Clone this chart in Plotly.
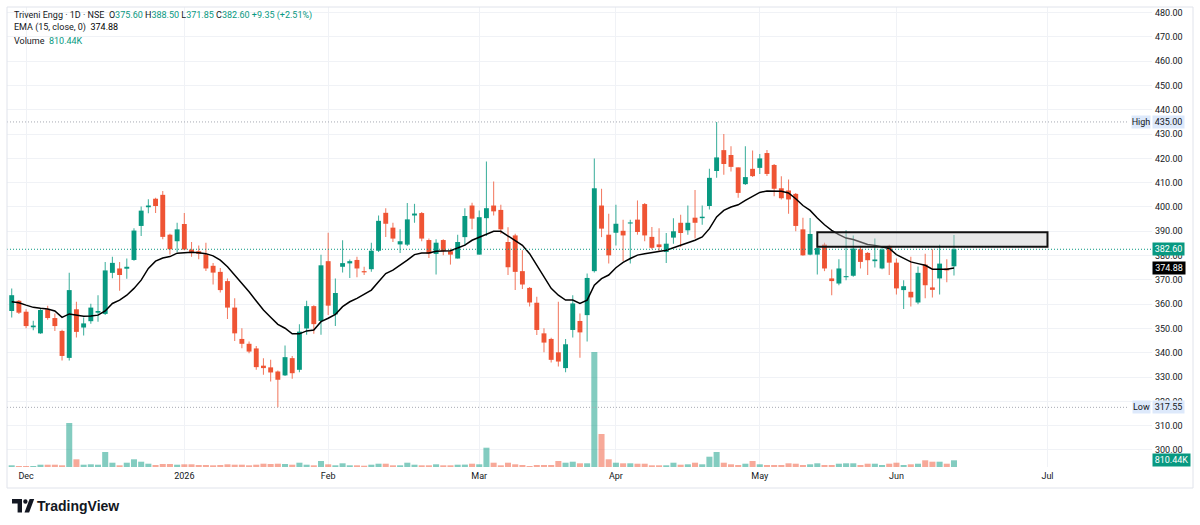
import plotly.graph_objects as go

# ---------------- data ----------------
opens = [
    357.2, 361.4, 356.9, 350.5, 348.0, 357.9, 354.3, 349.0, 337.9, 357.9,
    350.4, 353.0, 356.5, 356.0, 372.9, 374.7, 374.6, 378.2, 392.2, 399.9,
    403.4, 405.0, 388.6, 385.9, 393.0, 382.5, 381.8, 380.5, 375.8, 373.3,
    369.5, 358.6, 345.7, 343.7, 341.8, 334.7, 334.0, 332.3, 330.7, 337.8,
    333.0, 350.0, 359.2, 353.1, 377.7, 355.8, 375.4, 376.8, 378.2, 373.6,
    374.4, 382.0, 397.6, 391.5, 384.6, 384.5, 396.5, 397.5, 386.4, 380.7,
    386.4, 381.8, 378.8, 387.6, 400.6, 380.4, 395.4, 400.6, 398.8, 385.6,
    388.3, 373.6, 366.7, 360.6, 348.0, 345.7, 340.2, 333.7, 349.4, 353.1,
    355.5, 373.6, 400.6, 388.6, 389.4, 390.2, 393.2, 394.8, 401.2, 387.7,
    384.6, 381.5, 387.4, 393.5, 390.4, 395.6, 395.4, 400.4, 414.8, 423.4,
    421.4, 416.3, 409.4, 415.7, 416.1, 422.2, 417.3, 407.7, 406.8, 405.4,
    390.8, 380.4, 380.4, 384.5, 370.6, 368.5, 371.1, 371.7, 382.6, 381.1,
    377.7, 374.7, 384.0, 377.1, 365.8, 365.1, 360.7, 376.3, 366.9, 370.6,
    374.7, 375.6]

highs = [
    366.5, 361.7, 357.9, 353.2, 358.3, 359.4, 356.2, 349.5, 372.9, 361.0,
    354.5, 360.2, 363.7, 377.4, 379.5, 377.4, 378.8, 391.2, 400.2, 403.2,
    403.8, 406.6, 389.0, 393.5, 397.5, 385.6, 384.2, 385.3, 377.0, 374.9,
    370.6, 362.4, 350.1, 344.6, 342.8, 337.8, 337.1, 332.7, 343.0, 338.7,
    351.7, 361.4, 359.6, 380.3, 389.4, 370.6, 386.3, 378.4, 379.5, 375.4,
    385.3, 396.5, 399.5, 393.5, 390.8, 401.6, 401.3, 397.9, 387.0, 386.7,
    386.7, 382.9, 388.6, 399.5, 401.7, 398.6, 418.7, 410.5, 400.9, 391.7,
    389.0, 382.2, 367.1, 363.1, 350.1, 346.2, 361.0, 345.7, 363.7, 356.2,
    372.6, 420.0, 407.5, 397.2, 400.9, 394.8, 394.8, 402.7, 401.6, 391.8,
    391.3, 389.3, 395.4, 396.8, 400.6, 407.0, 400.6, 415.7, 435.0, 430.0,
    425.0, 416.3, 425.0, 423.2, 421.8, 423.5, 417.7, 412.6, 411.3, 405.8,
    395.6, 395.5, 387.4, 385.3, 374.3, 378.5, 390.4, 388.3, 384.0, 381.5,
    387.0, 383.6, 384.5, 378.8, 369.9, 379.5, 375.5, 380.8, 382.6, 384.5,
    378.5, 388.5]

lows = [
    354.5, 356.0, 350.1, 349.3, 347.8, 353.6, 349.0, 336.8, 336.8, 346.3,
    347.1, 352.0, 352.8, 355.5, 370.7, 365.5, 370.5, 377.9, 388.1, 397.4,
    397.5, 386.7, 380.4, 381.5, 382.2, 379.5, 378.5, 373.7, 368.1, 364.8,
    353.9, 344.9, 341.9, 339.8, 333.0, 331.0, 328.2, 317.55, 330.4, 329.3,
    332.0, 347.4, 347.8, 347.4, 355.5, 351.0, 373.0, 370.8, 371.1, 372.0,
    373.3, 381.5, 387.6, 385.6, 381.1, 383.9, 393.5, 385.9, 379.0, 372.2,
    380.1, 376.3, 378.8, 384.0, 390.8, 380.4, 388.1, 396.5, 389.0, 372.0,
    365.8, 366.2, 359.0, 347.3, 340.2, 336.0, 334.4, 332.0, 346.3, 338.0,
    344.6, 373.0, 387.6, 376.7, 384.2, 377.8, 376.7, 388.6, 385.9, 382.6,
    381.8, 377.0, 384.9, 383.5, 388.6, 387.0, 392.7, 399.0, 412.0, 413.3,
    414.6, 403.8, 409.1, 412.3, 413.6, 412.8, 404.4, 403.1, 397.2, 390.0,
    379.9, 380.1, 372.2, 373.6, 363.7, 367.8, 369.9, 371.3, 374.7, 372.0,
    375.1, 374.4, 372.0, 364.0, 358.0, 359.0, 360.0, 362.4, 362.8, 364.0,
    369.0, 371.85]

closes = [
    363.7, 356.5, 351.0, 351.2, 357.6, 354.3, 351.0, 338.7, 365.8, 348.6,
    352.1, 358.6, 357.2, 373.9, 377.0, 372.0, 375.4, 390.3, 398.5, 400.6,
    400.4, 387.7, 382.6, 390.8, 382.5, 381.5, 380.7, 374.7, 373.0, 365.8,
    358.6, 348.0, 343.7, 340.5, 334.1, 333.7, 331.9, 328.9, 338.2, 331.6,
    348.7, 359.2, 351.8, 376.0, 359.4, 364.6, 376.9, 377.7, 374.7, 373.1,
    382.0, 394.3, 393.1, 387.0, 385.9, 394.9, 397.3, 387.0, 380.8, 385.3,
    381.9, 380.4, 385.6, 396.3, 395.2, 395.8, 399.5, 398.2, 390.8, 375.2,
    373.3, 368.1, 360.7, 349.4, 344.2, 337.1, 336.4, 343.5, 360.3, 348.4,
    370.8, 407.7, 391.1, 380.1, 393.1, 388.3, 393.6, 389.7, 388.3, 383.2,
    383.5, 384.9, 390.0, 389.3, 393.5, 393.5, 396.0, 412.0, 420.4, 417.7,
    416.5, 405.8, 412.3, 412.7, 420.0, 413.6, 407.5, 403.6, 403.1, 392.2,
    380.1, 388.9, 383.1, 374.7, 369.5, 374.7, 371.4, 382.9, 377.4, 378.1,
    378.4, 382.5, 377.1, 366.5, 367.4, 362.8, 372.9, 367.8, 365.9, 376.7,
    373.9, 382.6]

volume_k = [
    206, 121, 121, 121, 278, 278, 278, 206, 5324, 932,
    278, 327, 278, 1815, 520, 206, 520, 932, 641, 399,
    242, 363, 363, 278, 327, 327, 242, 242, 206, 242,
    327, 278, 278, 206, 278, 399, 363, 399, 363, 278,
    520, 278, 206, 726, 327, 206, 448, 206, 206, 157,
    278, 399, 399, 206, 206, 520, 278, 206, 206, 327,
    206, 206, 278, 290, 399, 327, 2335, 520, 206, 520,
    327, 242, 121, 242, 242, 242, 726, 520, 641, 448,
    448, 13915, 3993, 932, 520, 448, 448, 399, 399, 206,
    206, 206, 520, 278, 327, 520, 327, 1246, 1815, 520,
    327, 242, 399, 726, 327, 242, 242, 242, 448, 399,
    242, 327, 448, 242, 242, 399, 448, 448, 242, 399,
    399, 242, 399, 520, 242, 327, 399, 811, 641, 641,
    399, 810.44]

ema15 = [
    361.0, 360.6, 359.6, 358.7, 358.3, 358.0, 357.2, 354.6, 356.0, 355.5,
    355.0, 355.1, 355.5, 357.2, 360.3, 361.7, 363.7, 366.5, 369.9, 374.7,
    377.7, 379.0, 379.6, 381.0, 381.2, 381.4, 381.2, 380.8, 379.9, 378.1,
    375.4, 372.0, 368.5, 365.1, 361.3, 357.6, 354.6, 351.7, 350.1, 347.8,
    347.8, 349.0, 349.4, 352.8, 354.2, 355.8, 359.0, 361.0, 362.4, 364.0,
    365.8, 369.2, 372.6, 374.0, 376.0, 378.1, 380.4, 381.1, 381.1, 381.8,
    381.9, 382.0, 383.1, 384.3, 386.3, 387.6, 389.0, 390.0, 390.0, 388.1,
    386.3, 384.2, 380.8, 376.0, 371.3, 366.5, 363.7, 361.7, 361.7, 360.3,
    361.7, 367.8, 370.5, 372.0, 375.0, 377.2, 378.8, 380.2, 380.8, 381.2,
    381.5, 382.2, 383.2, 384.2, 385.3, 386.3, 387.7, 391.1, 395.9, 398.6,
    400.0, 400.9, 402.7, 404.5, 406.0, 406.6, 406.5, 406.5, 405.8, 403.4,
    400.6, 398.6, 395.5, 392.7, 390.4, 388.6, 387.2, 386.6, 385.6, 384.6,
    384.2, 383.7, 382.9, 380.4, 378.8, 377.4, 376.7, 376.0, 374.4, 374.4,
    374.4, 374.88]

month_tick_idx = [2, 24, 44, 65, 84, 104, 123, 144]
month_labels = ["Dec", "2026", "Feb", "Mar", "Apr", "May", "Jun", "Jul"]

price_ticks = [300, 310, 320, 330, 340, 350, 360, 370, 380, 390,
               400, 410, 420, 430, 440, 450, 460, 470, 480]
price_tick_labels = ["300.00", "310.00", "320.00", "330.00", "340.00", "350.00",
                     "360.00", "370.00", "380.00", "390.00", "400.00", "410.00",
                     "420.00", "430.00", "440.00", "450.00", "460.00", "470.00",
                     "480.00"]

symbol_title = "Triveni Engg · 1D · NSE"
change_text = "+9.35 (+2.51%)"
ema_title = "EMA (15, close, 0)"
volume_title = "Volume"
last_volume_label = "810.44K"
period_high = 435.00
period_low = 317.55
zone_start_idx, zone_end_idx = 112, 144
zone_low, zone_high = 383.6, 389.6

# ---------------- geometry / style ----------------
W, H = 1200, 525
PANE_L, PANE_R, PANE_T, PANE_B = 7, 1152, 7, 467
X_RANGE = [-0.653, 158.53]
Y_RANGE = [293.0, 482.3]
VOL_RANGE = [0, 55660]

FONT = "Trebuchet MS, Roboto, Liberation Sans, Arial, sans-serif"
TEXT = "#131722"
GRID = "#f0f2f6"
UP = "#089981"
DN = "#EF5434"
WICK_UP = "rgba(8,153,129,0.75)"
WICK_DN = "rgba(239,84,52,0.75)"
VOL_UP = "rgba(8,153,129,0.5)"
VOL_DN = "rgba(239,84,52,0.5)"
TAG_BG = "#dde9fb"


def fx(px):
    return (px - PANE_L) / (PANE_R - PANE_L)


def fy(py):
    return (PANE_B - py) / (PANE_B - PANE_T)


x = list(range(len(opens)))
is_up = [c >= o for o, c in zip(opens, closes)]

fig = go.Figure()

# volume overlay
fig.add_trace(go.Bar(
    x=x, y=volume_k, yaxis="y2", width=0.84,
    marker=dict(color=[VOL_UP if u else VOL_DN for u in is_up], line=dict(width=0)),
    hoverinfo="skip"))

# wicks
fig.add_trace(go.Bar(
    x=x, base=lows, y=[h - l for h, l in zip(highs, lows)], width=0.15,
    marker=dict(color=[WICK_UP if u else WICK_DN for u in is_up], line=dict(width=0)),
    hoverinfo="skip"))

# bodies
fig.add_trace(go.Bar(
    x=x, base=[min(o, c) for o, c in zip(opens, closes)],
    y=[max(abs(c - o), 0.45) for o, c in zip(opens, closes)], width=0.68,
    marker=dict(color=[UP if u else DN for u in is_up], line=dict(width=0)),
    hoverinfo="skip"))

# EMA 15
fig.add_trace(go.Scatter(x=x, y=ema15, mode="lines",
                         line=dict(color="#000000", width=1.5), hoverinfo="skip"))

shapes = []
# High / Low dotted lines
for lvl in (period_high, period_low):
    shapes.append(dict(type="line", xref="paper", yref="y", x0=0, x1=fx(1129),
                       y0=lvl, y1=lvl,
                       line=dict(color="#a6a9b2", width=1, dash="1px,2px")))
# last price line
shapes.append(dict(type="line", xref="paper", yref="y", x0=0, x1=1,
                   y0=closes[-1], y1=closes[-1],
                   line=dict(color=UP, width=1, dash="1px,2px")))
# zone rectangle
shapes.append(dict(type="rect", xref="x", yref="y", x0=zone_start_idx, x1=zone_end_idx,
                   y0=zone_low, y1=zone_high, fillcolor="rgba(200,200,200,0.42)",
                   line=dict(color="#111111", width=2), layer="above"))
# outer frame
shapes.append(dict(type="rect", xref="paper", yref="paper", x0=fx(7), x1=fx(1193),
                   y0=fy(488), y1=fy(7), line=dict(color="#e0e3eb", width=1),
                   fillcolor="rgba(0,0,0,0)"))


def ppath(points):
    return "M " + " L ".join(f"{fx(px):.5f},{fy(py):.5f}" for px, py in points) + " Z"


# TradingView logo mark
shapes.append(dict(type="path", xref="paper", yref="paper",
                   path=ppath([(12, 499), (22, 499), (22, 512.5), (17.6, 512.5),
                               (17.6, 503.6), (12, 503.6)]),
                   fillcolor="#131722", line=dict(width=0)))
shapes.append(dict(type="circle", xref="paper", yref="paper",
                   x0=fx(23.2), x1=fx(27.6), y0=fy(503.7), y1=fy(499.3),
                   fillcolor="#131722", line=dict(width=0)))
shapes.append(dict(type="path", xref="paper", yref="paper",
                   path=ppath([(24.5, 512.5), (29.6, 499), (34.2, 499), (29.1, 512.5)]),
                   fillcolor="#131722", line=dict(width=0)))

annotations = []


def span(txt, col):
    return f"<span style='color:{col}'>{txt}</span>"


line1 = (span(symbol_title, TEXT) + "  "
         + span("O", TEXT) + span(f"{opens[-1]:.2f}", UP) + " "
         + span("H", TEXT) + span(f"{highs[-1]:.2f}", UP) + " "
         + span("L", TEXT) + span(f"{lows[-1]:.2f}", UP) + " "
         + span("C", TEXT) + span(f"{closes[-1]:.2f}", UP) + " "
         + span(change_text, UP))
line2 = span(ema_title, TEXT) + "  " + span(f"{ema15[-1]:.2f}", "#000000")
line3 = span(volume_title, TEXT) + "  " + span(last_volume_label, UP)
for txt, py in ((line1, 15), (line2, 28), (line3, 41)):
    annotations.append(dict(text=txt, xref="paper", yref="paper", x=fx(12), y=fy(py),
                            xanchor="left", yanchor="middle", showarrow=False,
                            font=dict(family=FONT, size=9, color=TEXT)))


def tag(text, cx, w, yval, yref, bg, fg, h=12):
    annotations.append(dict(text=text, xref="paper", yref=yref, x=fx(cx), y=yval,
                            xanchor="center", yanchor="middle", showarrow=False,
                            width=w, height=h, bgcolor=bg, borderpad=0,
                            font=dict(family=FONT, size=9, color=fg)))


tag("High", 1141, 18, period_high, "y", TAG_BG, TEXT)
tag(f"{period_high:.2f}", 1168, 31, period_high, "y", TAG_BG, TEXT)
tag("Low", 1141.5, 17, period_low, "y", TAG_BG, TEXT)
tag(f"{period_low:.2f}", 1168, 31, period_low, "y", TAG_BG, TEXT)
tag(f"{closes[-1]:.2f}", 1168, 31, closes[-1], "y", UP, "#ffffff")
tag(f"{ema15[-1]:.2f}", 1168.5, 32, ema15[-1], "y", "#000000", "#ffffff")
tag(last_volume_label, 1171, 37, fy(460), "paper", UP, "#ffffff")

# TradingView wordmark
annotations.append(dict(text="<b>TradingView</b>", xref="paper", yref="paper",
                        x=fx(35), y=fy(506), xanchor="left", yanchor="middle",
                        showarrow=False,
                        font=dict(family="Liberation Sans, Arial, sans-serif",
                                  size=14, color="#131722")))

fig.update_layout(
    width=W, height=H,
    margin=dict(l=PANE_L, r=W - PANE_R, t=PANE_T, b=H - PANE_B, pad=0),
    paper_bgcolor="white", plot_bgcolor="white",
    showlegend=False, barmode="overlay", hovermode=False,
    font=dict(family=FONT, size=9, color=TEXT),
    xaxis=dict(range=X_RANGE, tickmode="array", tickvals=month_tick_idx,
               ticktext=month_labels, showgrid=True, gridcolor=GRID, gridwidth=1,
               zeroline=False, showline=False, ticks="", ticklabelstandoff=2,
               tickfont=dict(family=FONT, size=9, color=TEXT), fixedrange=True),
    yaxis=dict(range=Y_RANGE, side="right", tickmode="array", tickvals=price_ticks,
               ticktext=price_tick_labels, showgrid=True, gridcolor=GRID, gridwidth=1,
               zeroline=False, showline=False, ticks="", ticklabelstandoff=2,
               tickfont=dict(family=FONT, size=9, color=TEXT), fixedrange=True),
    yaxis2=dict(range=VOL_RANGE, overlaying="y", visible=False, fixedrange=True),
    shapes=shapes,
    annotations=annotations,
)

fig.write_html("out.html", config={"displayModeBar": False, "staticPlot": True})
